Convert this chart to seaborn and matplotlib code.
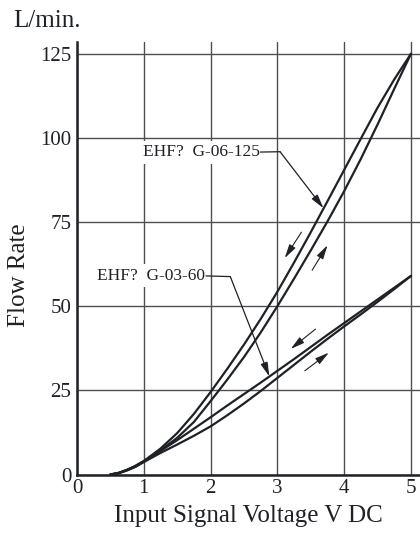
#!/usr/bin/env python3
"""Flow rate vs. input signal voltage for EHF G-06-125 and G-03-60 (hysteresis curves)."""
import pandas as pd
import seaborn as sns
import matplotlib.pyplot as plt

# Input voltage (V DC) sample points
volts = [0.5, 0.625, 0.75, 0.875, 1.0, 1.25, 1.5, 1.75, 2.0, 2.25, 2.5, 2.75,
         3.0, 3.25, 3.5, 3.75, 4.0, 4.25, 4.5, 4.75, 5.0]

# G-06-125: falling branch (left curve) and rising branch (right curve), L/min
g06_down = [0, 0.5, 1.4, 2.5, 4.0, 7.7, 12.3, 18.0, 24.5, 31.4, 38.6, 46.2,
            54.3, 63.0, 72.0, 81.2, 90.5, 99.8, 109.0, 117.4, 125.0]
g06_up = [0, 0.4, 1.3, 2.3, 3.8, 7.2, 10.9, 15.6, 21.8, 28.2, 34.9, 42.2,
          50.0, 58.2, 66.6, 75.2, 84.2, 93.8, 104.0, 114.6, 125.0]

# G-03-60: falling branch and rising branch, L/min
g03_down = [0, 0.5, 1.4, 2.6, 4.0, 7.0, 10.2, 13.6, 17.0, 20.5, 23.9, 27.3,
            30.8, 34.3, 37.9, 41.5, 45.0, 48.5, 52.0, 55.5, 59.0]
g03_up = [0, 0.4, 1.2, 2.3, 3.7, 6.4, 8.9, 11.5, 14.3, 17.6, 21.1, 24.8,
          28.7, 32.6, 36.5, 40.3, 44.0, 47.6, 51.3, 55.1, 59.0]

x_ticks = [0, 1, 2, 3, 4, 5]
y_ticks = [0, 25, 50, 75, 100, 125]

# callouts: label, text anchor (right end), elbow, arrow tip
callouts = [
    ("EHF?  G-06-125", (2.735, 95.8), (3.04, 95.9), (3.69, 79.1)),
    ("EHF?  G-03-60", (1.92, 59.0), (2.295, 58.8), (2.88, 29.1)),
]
# small direction arrows: (start, end) with the head at end
dir_arrows = [
    ((3.36, 72.0), (3.11, 64.3)),
    ((3.52, 60.7), (3.75, 68.1)),
    ((3.57, 43.2), (3.20, 37.3)),
    ((3.41, 30.8), (3.77, 36.2)),
]

sns.set_theme(style="white")
plt.rcParams['font.family'] = ['Liberation Serif', 'DejaVu Serif']

ink = '#1e2126'
grid_col = '#4d4f52'

frames = []
for name, ys in [('g06_down', g06_down), ('g06_up', g06_up),
                 ('g03_down', g03_down), ('g03_up', g03_up)]:
    frames.append(pd.DataFrame({'volt': volts, 'flow': ys, 'branch': name}))
df = pd.concat(frames, ignore_index=True)

fig = plt.figure(figsize=(4.2, 5.35), dpi=100)
ax = fig.add_axes([77 / 420, (535 - 474.5) / 535, 343 / 420, 432.5 / 535])

sns.lineplot(data=df, x='volt', y='flow', units='branch', estimator=None,
             sort=False, color=ink, linewidth=1.6, ax=ax, zorder=3)

ax.set_xlim(0, 5.135)
ax.set_ylim(0, 128.5)
ax.set_xticks(x_ticks)
ax.set_yticks(y_ticks)
ax.grid(True, color=grid_col, linewidth=1.0, zorder=0)
ax.set_axisbelow(True)
for side in ['top', 'right']:
    ax.spines[side].set_visible(False)
for side in ['left', 'bottom']:
    ax.spines[side].set_color(ink)
    ax.spines[side].set_linewidth(1.8)

ax.tick_params(axis='both', length=0, labelsize=15, colors=ink)
ax.tick_params(axis='y', pad=4)
ax.tick_params(axis='x', pad=3)

ax.set_xlabel('Input Signal Voltage V DC', fontsize=18, color=ink)
ax.set_ylabel('Flow Rate', fontsize=18, color=ink)
ax.xaxis.set_label_coords(0.5, -0.07)
ax.yaxis.set_label_coords(-0.137, 0.461)

for label, txt_pos, elbow, tip in callouts:
    ax.text(txt_pos[0], txt_pos[1], label, ha='right', va='center',
            fontsize=12.5, color=ink, zorder=4,
            bbox=dict(boxstyle='square,pad=0.2', facecolor='white', edgecolor='none'))
    ax.plot([txt_pos[0] + 0.01, elbow[0]], [txt_pos[1], elbow[1]],
            color=ink, linewidth=0.9, zorder=4)
    ax.annotate('', xy=tip, xytext=elbow,
                arrowprops=dict(arrowstyle='-|>,head_length=0.7,head_width=0.18',
                                color=ink, linewidth=0.9, shrinkA=0, shrinkB=0),
                zorder=4)

for start, end in dir_arrows:
    ax.annotate('', xy=end, xytext=start,
                arrowprops=dict(arrowstyle='-|>,head_length=0.7,head_width=0.18',
                                color=ink, linewidth=0.8, shrinkA=0, shrinkB=0),
                zorder=4)

fig.text(13 / 420, 1 - 27 / 535, 'L/min.', fontsize=18, color=ink,
         ha='left', va='baseline')

fig.savefig('out.png', dpi=100)
plt.close(fig)
